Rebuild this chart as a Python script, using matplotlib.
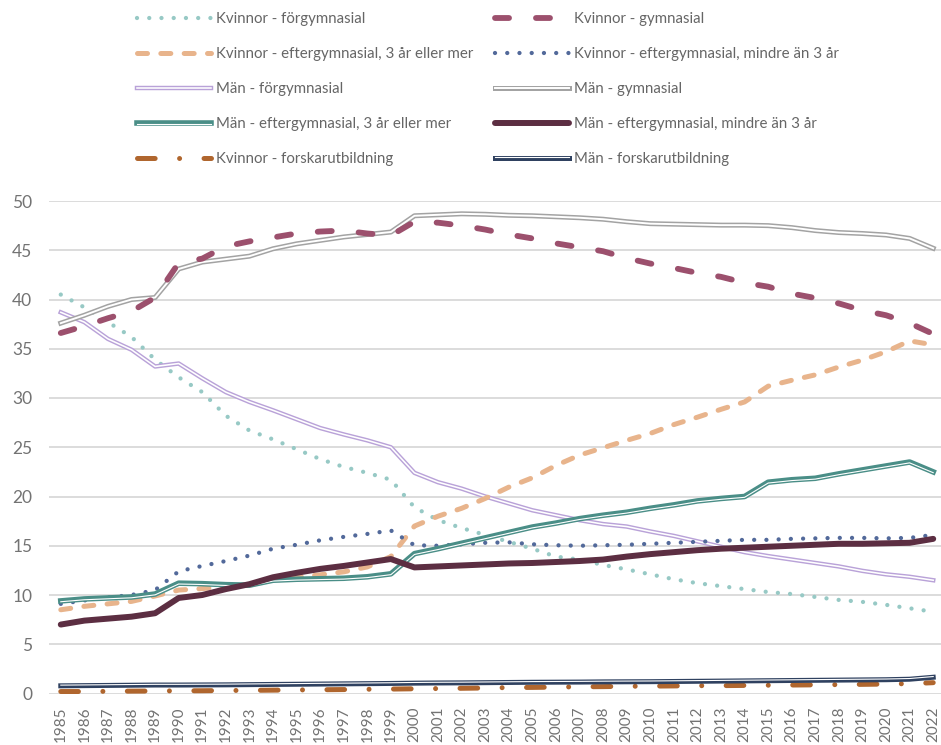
import matplotlib
matplotlib.use("Agg")
import matplotlib.pyplot as plt
import matplotlib.patheffects as pe
import numpy as np

plt.rcParams['font.family'] = ['Lato', 'DejaVu Sans']
plt.rcParams['lines.scale_dashes'] = False

years = [str(y) for y in range(1985, 2023)]

k_forg = [40.5, 39.2, 37.7, 36.2, 33.9, 32.1, 30.6, 28.2, 26.7, 25.8,
          24.8, 23.8, 23.0, 22.4, 21.7, 18.9, 17.6, 16.8, 16.1, 15.4,
          14.7, 13.9, 13.6, 13.05, 12.6, 12.1, 11.6, 11.2, 10.9, 10.6,
          10.3, 10.1, 9.8, 9.5, 9.3, 9.0, 8.65, 8.3]
k_gym = [36.6, 37.3, 38.1, 38.8, 40.2, 43.7, 44.15, 45.4, 45.9, 46.3,
         46.7, 46.9, 47.0, 46.7, 46.5, 47.9, 47.8, 47.5, 47.1, 46.6,
         46.2, 45.7, 45.3, 44.9, 44.2, 43.65, 43.2, 42.7, 42.3, 41.7,
         41.3, 40.6, 40.15, 39.6, 38.9, 38.4, 37.6, 36.5]
k_3plus = [8.5, 8.85, 9.1, 9.35, 9.9, 10.5, 10.65, 10.85, 11.0, 11.55,
           11.8, 12.05, 12.35, 12.85, 13.9, 17.0, 18.0, 18.8, 19.8, 20.95,
           21.9, 23.15, 24.2, 24.95, 25.7, 26.4, 27.3, 28.05, 28.85, 29.6,
           31.2, 31.8, 32.35, 33.15, 33.85, 34.7, 35.8, 35.4]
k_lt3 = [9.1, 9.45, 9.75, 10.0, 10.5, 12.4, 12.95, 13.45, 14.0, 14.7,
         15.1, 15.55, 15.9, 16.2, 16.55, 15.05, 15.0, 15.15, 15.3, 15.35,
         15.15, 15.05, 15.0, 15.05, 15.1, 15.2, 15.3, 15.4, 15.5, 15.6,
         15.6, 15.7, 15.75, 15.8, 15.8, 15.75, 15.8, 16.1]
m_forg = [38.7, 37.7, 36.0, 34.9, 33.2, 33.5, 32.0, 30.6, 29.6, 28.75,
          27.85, 26.95, 26.3, 25.7, 25.0, 22.4, 21.45, 20.8, 20.0, 19.3,
          18.6, 18.1, 17.6, 17.2, 16.95, 16.45, 16.0, 15.45, 14.9, 14.35,
          13.95, 13.6, 13.25, 12.9, 12.45, 12.1, 11.85, 11.5]
m_gym = [37.6, 38.4, 39.3, 40.0, 40.2, 43.1, 43.8, 44.1, 44.4, 45.15,
         45.65, 46.0, 46.35, 46.6, 46.85, 48.5, 48.6, 48.7, 48.65, 48.55,
         48.5, 48.4, 48.3, 48.15, 47.9, 47.7, 47.65, 47.6, 47.55, 47.55,
         47.5, 47.3, 47.0, 46.8, 46.7, 46.55, 46.2, 45.2]
m_3plus = [9.4, 9.6, 9.7, 9.8, 10.1, 11.2, 11.15, 11.05, 11.0, 11.5,
           11.6, 11.65, 11.7, 11.85, 12.15, 14.2, 14.7, 15.25, 15.8, 16.35,
           16.9, 17.3, 17.75, 18.1, 18.4, 18.8, 19.15, 19.55, 19.8, 20.0,
           21.45, 21.7, 21.85, 22.3, 22.7, 23.1, 23.5, 22.5]
m_lt3 = [7.0, 7.4, 7.6, 7.8, 8.15, 9.7, 10.0, 10.6, 11.1, 11.8,
         12.25, 12.65, 12.95, 13.3, 13.65, 12.8, 12.9, 13.0, 13.1, 13.2,
         13.25, 13.35, 13.45, 13.6, 13.9, 14.15, 14.35, 14.55, 14.7, 14.8,
         14.9, 15.0, 15.1, 15.2, 15.2, 15.25, 15.3, 15.7]
k_forsk = [0.2, 0.2, 0.22, 0.24, 0.25, 0.27, 0.28, 0.3, 0.32, 0.34,
           0.36, 0.38, 0.4, 0.43, 0.45, 0.48, 0.5, 0.53, 0.56, 0.6,
           0.62, 0.65, 0.68, 0.7, 0.73, 0.75, 0.77, 0.79, 0.8, 0.82,
           0.84, 0.86, 0.88, 0.9, 0.93, 0.96, 1.0, 1.1]
m_forsk = [0.78, 0.8, 0.82, 0.84, 0.86, 0.86, 0.87, 0.88, 0.9, 0.92,
           0.94, 0.96, 0.98, 1.0, 1.02, 1.05, 1.07, 1.08, 1.1, 1.12,
           1.14, 1.15, 1.16, 1.18, 1.19, 1.2, 1.22, 1.24, 1.26, 1.28,
           1.3, 1.32, 1.34, 1.36, 1.38, 1.4, 1.45, 1.65]

labels = {
    'k_forg': 'Kvinnor - förgymnasial',
    'k_gym': 'Kvinnor - gymnasial',
    'k_3plus': 'Kvinnor - eftergymnasial, 3 år eller mer',
    'k_lt3': 'Kvinnor - eftergymnasial, mindre än 3 år',
    'm_forg': 'Män - förgymnasial',
    'm_gym': 'Män - gymnasial',
    'm_3plus': 'Män - eftergymnasial, 3 år eller mer',
    'm_lt3': 'Män - eftergymnasial, mindre än 3 år',
    'k_forsk': 'Kvinnor - forskarutbildning',
    'm_forsk': 'Män - forskarutbildning',
}

W, H = 941, 745
fig = plt.figure(figsize=(W / 100, H / 100), dpi=100)
x0, x1 = 49, 945
ytop, ybot = 201, 693.5
ax = fig.add_axes([x0 / W, 1 - ybot / H, (x1 - x0) / W, (ybot - ytop) / H])

x = np.arange(len(years))
handles = {}

def dbl(color, outer, inner, off=(0, 0)):
    return [pe.Stroke(linewidth=outer, foreground=color),
            pe.Stroke(linewidth=inner, foreground='white', offset=off)]

handles['k_forg'], = ax.plot(x, k_forg, color='#97C9C5', lw=3.1,
                             linestyle=(0, (0.01, 8.8)), dash_capstyle='round',
                             label=labels['k_forg'])
handles['m_forg'], = ax.plot(x, m_forg, color='#B9A2D8', lw=3.2,
                             path_effects=dbl('#B9A2D8', 3.2, 1.15),
                             label=labels['m_forg'])
handles['m_gym'], = ax.plot(x, m_gym, color='#A3A3A3', lw=3.6,
                            path_effects=dbl('#A3A3A3', 3.6, 1.4),
                            label=labels['m_gym'])
handles['k_gym'], = ax.plot(x, k_gym, color='#9C506D', lw=4.2,
                            linestyle=(0, (10.1, 19.4)), dash_capstyle='round',
                            label=labels['k_gym'])
handles['k_3plus'], = ax.plot(x, k_3plus, color='#E8B48C', lw=3.6,
                              linestyle=(0, (7.2, 9.6)), dash_capstyle='round',
                              label=labels['k_3plus'])
handles['k_lt3'], = ax.plot(x, k_lt3, color='#52699A', lw=3.1,
                            linestyle=(0, (0.01, 8.8)), dash_capstyle='round',
                            label=labels['k_lt3'])
handles['m_3plus'], = ax.plot(x, m_3plus, color='#4A8E87', lw=4.0,
                              path_effects=dbl('#4A8E87', 4.0, 0.8, (0, -0.6)),
                              label=labels['m_3plus'])
handles['m_lt3'], = ax.plot(x, m_lt3, color='#5C2E42', lw=4.3,
                            solid_capstyle='round', label=labels['m_lt3'])
handles['k_forsk'], = ax.plot(x, k_forsk, color='#B0662E', lw=3.6,
                              linestyle=(0, (12.7, 17.6, 0.01, 17.6)),
                              dash_capstyle='round', label=labels['k_forsk'])
handles['m_forsk'], = ax.plot(x, m_forsk, color='#2F4160', lw=3.6,
                              path_effects=dbl('#2F4160', 3.6, 0.8, (0, 0.5)),
                              label=labels['m_forsk'])

ax.set_xlim(-0.5, len(years) - 0.5)
ax.set_ylim(0, 50)
ax.set_yticks(range(0, 51, 5))
ax.set_xticks(x)
ax.set_xticklabels(years, rotation=90, fontsize=11, color='#737373')
ax.tick_params(axis='y', labelsize=12.5, labelcolor='#737373', length=0, pad=12)
ax.tick_params(axis='x', length=0, pad=9)
ax.grid(axis='y', color='#D9D9D9', lw=1.3)
ax.set_axisbelow(True)
for s in ax.spines.values():
    s.set_visible(False)

col1 = ['k_forg', 'k_3plus', 'm_forg', 'm_3plus', 'k_forsk']
col2 = ['k_gym', 'k_lt3', 'm_gym', 'm_lt3', 'm_forsk']
common = dict(loc='upper left', frameon=False, fontsize=10.8, borderpad=0,
              borderaxespad=0, handlelength=4.9, handletextpad=0.35,
              labelspacing=1.4, labelcolor='#666666')
fig.legend([handles[k] for k in col1], [labels[k] for k in col1],
           bbox_to_anchor=(137 / W, 1 - 12 / H), **common)
fig.legend([handles[k] for k in col2], [labels[k] for k in col2],
           bbox_to_anchor=(495 / W, 1 - 12 / H), **common)

fig.savefig('out.png', dpi=100)
